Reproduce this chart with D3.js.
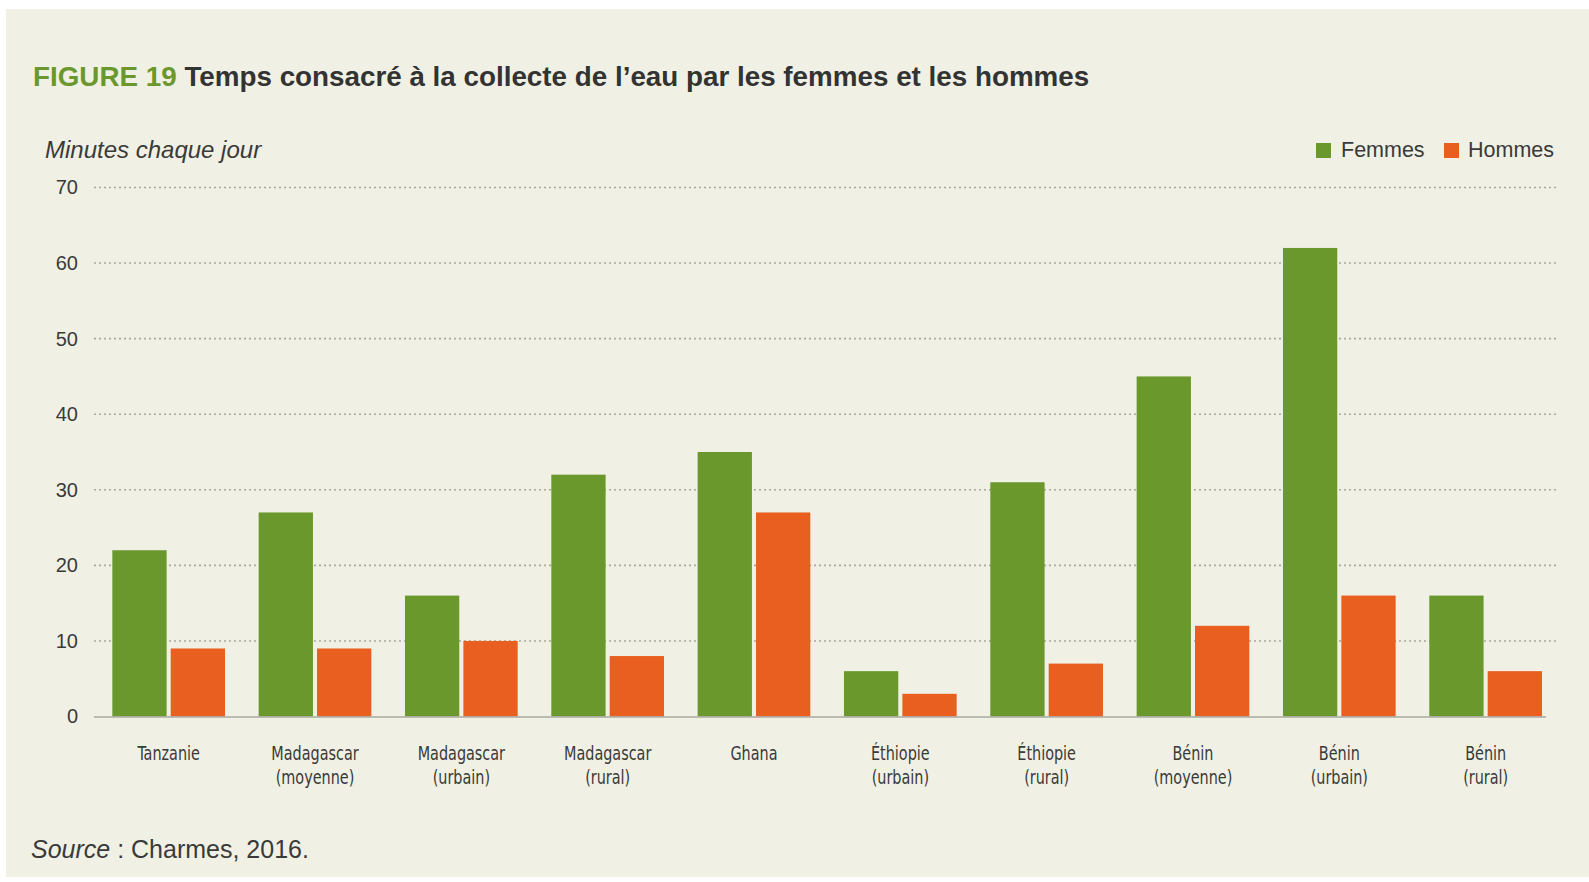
<!DOCTYPE html>
<html><head><meta charset="utf-8">
<script src="https://cdn.jsdelivr.net/npm/d3@7"></script>
<style>
body{margin:0;background:#fff;}
svg{display:block;}
</style></head>
<body>
<svg id="c" width="1589" height="882"></svg>
<script>
const categories = [
  ["Tanzanie"],
  ["Madagascar","(moyenne)"],
  ["Madagascar","(urbain)"],
  ["Madagascar","(rural)"],
  ["Ghana"],
  ["Éthiopie","(urbain)"],
  ["Éthiopie","(rural)"],
  ["Bénin","(moyenne)"],
  ["Bénin","(urbain)"],
  ["Bénin","(rural)"]
];
const femmes = [22, 27, 16, 32, 35, 6, 31, 45, 62, 16];
const hommes = [9, 9, 10, 8, 27, 3, 7, 12, 16, 6];
const seriesNames = ["Femmes", "Hommes"];
const yTicks = [0, 10, 20, 30, 40, 50, 60, 70];

const colors = {Femmes: "#6a982d", Hommes: "#e85f20"};
const svg = d3.select("#c");
const W = 1589, H = 882;

svg.append("rect").attr("x",0).attr("y",0).attr("width",W).attr("height",H).attr("fill","#ffffff");
svg.append("rect").attr("x",6).attr("y",9).attr("width",W-6).attr("height",868).attr("fill","#f0f1e4");

const textCol = "#3a3a3a";
const fontMain = "'Liberation Sans', Arial, sans-serif";
const fontNarrow = "'DejaVu Sans Condensed', 'Liberation Sans', sans-serif";

// Title
const title = svg.append("text").attr("x",33).attr("y",86)
  .attr("font-family",fontMain).attr("font-weight","bold").attr("font-size",27.8);
title.append("tspan").attr("fill","#6a982d").text("FIGURE 19 ");
title.append("tspan").attr("fill","#333").text("Temps consacré à la collecte de l’eau par les femmes et les hommes");

// Y label
svg.append("text").attr("x",45).attr("y",158).attr("font-family",fontMain)
  .attr("font-style","italic").attr("font-size",24).attr("fill",textCol).text("Minutes chaque jour");

const y = d3.scaleLinear().domain([0,70]).range([716.5,187.5]);
const x0 = d3.scaleBand().domain(d3.range(categories.length)).range([95.5,1558.8])
  .paddingInner(0.23).paddingOuter(0.115);
const x1 = d3.scaleBand().domain(seriesNames).range([0, x0.bandwidth()]).paddingInner(0.07);

// grid
const grid = svg.append("g");
yTicks.filter(t=>t>0).forEach(t=>{
  grid.append("line").attr("x1",94).attr("x2",1559).attr("y1",y(t)).attr("y2",y(t))
    .attr("stroke","#a8a89a").attr("stroke-width",1.6).attr("stroke-dasharray","2,3");
});

// y axis ticks via d3 axis
const yAxis = svg.append("g").attr("transform","translate(78,0)")
  .call(d3.axisLeft(y).tickValues(yTicks).tickSize(0).tickPadding(0).tickFormat(d3.format("d")));
yAxis.select(".domain").remove();
yAxis.selectAll("text").attr("font-family",fontMain).attr("font-size",20).attr("fill",textCol);

// bars
const data = categories.map((c,i)=>({i, vals:[{k:"Femmes",v:femmes[i]},{k:"Hommes",v:hommes[i]}]}));
const g = svg.append("g");
const grp = g.selectAll("g.grp").data(data).join("g").attr("class","grp")
  .attr("transform",d=>`translate(${x0(d.i)},0)`);
grp.selectAll("rect").data(d=>d.vals).join("rect")
  .attr("x",d=>x1(d.k)).attr("width",x1.bandwidth())
  .attr("y",d=>y(d.v)).attr("height",d=>y(0)-y(d.v))
  .attr("fill",d=>colors[d.k]);

// baseline
svg.append("line").attr("x1",94).attr("x2",1546).attr("y1",y(0)+0.5).attr("y2",y(0)+0.5)
  .attr("stroke","#a9a9a0").attr("stroke-width",1.5);

// x labels
const xl = svg.append("g");
categories.forEach((c,i)=>{
  const cx = x0(i)+x0.bandwidth()/2;
  const t = xl.append("text").attr("transform",`translate(${cx},760) scale(0.8,1)`)
    .attr("text-anchor","middle").attr("font-family",fontNarrow).attr("font-size",20).attr("fill",textCol);
  c.forEach((line,j)=>{
    t.append("tspan").attr("x",0).attr("dy", j===0?0:24).text(line);
  });
});

// legend
const lg = svg.append("g");
const legendItems = [{k:"Femmes",sx:1316,tx:1341},{k:"Hommes",sx:1444,tx:1468}];
legendItems.forEach(it=>{
  lg.append("rect").attr("x",it.sx).attr("y",143).attr("width",15).attr("height",15).attr("fill",colors[it.k]);
  lg.append("text").attr("x",it.tx).attr("y",157).attr("font-family",fontMain).attr("font-size",21.5)
    .attr("fill",textCol).text(it.k);
});

// source
const src = svg.append("text").attr("x",31).attr("y",858).attr("font-family",fontMain).attr("font-size",25).attr("fill",textCol);
src.append("tspan").attr("font-style","italic").text("Source");
src.append("tspan").text(" : Charmes, 2016.");
</script>
</body></html>
